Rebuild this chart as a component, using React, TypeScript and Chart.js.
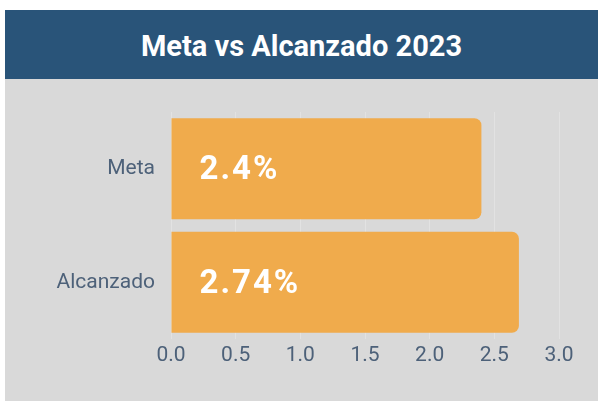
import React, { useEffect, useRef } from "react";
import { Chart, registerables } from "chart.js";

Chart.register(...registerables);

const titleText = "Meta vs Alcanzado 2023";
const categories = ["Meta", "Alcanzado"];
const barValues = [2.4, 2.69];
const valueLabels = ["2.4%", "2.74%"];
const xTicks = [0, 0.5, 1, 1.5, 2, 2.5, 3];

const FONT = "Roboto, 'Noto Sans', sans-serif";

export default function App() {
  const ref = useRef<HTMLCanvasElement | null>(null);

  useEffect(() => {
    if (!ref.current) return;
    const valuePlugin = {
      id: "valueLabels",
      afterDatasetsDraw(chart: any) {
        const ctx = chart.ctx;
        const meta = chart.getDatasetMeta(0);
        ctx.save();
        ctx.fillStyle = "#ffffff";
        ctx.font = `bold 33px ${FONT}`;
        try { (ctx as any).letterSpacing = "2px"; } catch (e) {}
        ctx.textAlign = "left";
        ctx.textBaseline = "middle";
        meta.data.forEach((el: any, i: number) => {
          ctx.fillText(valueLabels[i], el.base + 28, el.y + 2);
        });
        ctx.restore();
      },
    };
    const chart = new Chart(ref.current, {
      type: "bar",
      data: {
        labels: categories,
        datasets: [
          {
            data: barValues,
            backgroundColor: "#f0ab4c",
            borderRadius: 7,
            borderSkipped: "start",
            categoryPercentage: 1,
            barPercentage: 0.89,
          },
        ],
      },
      options: {
        indexAxis: "y",
        animation: false,
        responsive: true,
        maintainAspectRatio: false,
        layout: { padding: { top: 33, right: 39, left: 0, bottom: 0 } },
        plugins: {
          legend: { display: false },
          tooltip: { enabled: false },
          title: { display: false },
        },
        scales: {
          x: {
            min: 0,
            max: 3,
            afterBuildTicks(scale: any) {
              scale.ticks = xTicks.map((v) => ({ value: v }));
            },
            afterFit(scale: any) {
              scale.height = 62;
            },
            grid: { color: "#e2e2e2", lineWidth: 1, drawTicks: false },
            border: { display: false },
            ticks: {
              padding: 4,
              color: "#4d6179",
              font: { family: FONT, size: 21 },
              callback: (v: any) => Number(v).toFixed(1),
            },
          },
          y: {
            afterFit(scale: any) {
              scale.width = 166;
            },
            grid: { display: false, drawTicks: false },
            border: { display: false },
            ticks: {
              padding: 16,
              color: "#4d6179",
              font: { family: FONT, size: 21 },
            },
          },
        },
      },
      plugins: [valuePlugin],
    });
    return () => chart.destroy();
  }, []);

  return (
    <div
      style={{
        position: "absolute",
        left: 5,
        top: 10,
        width: 593,
        height: 391,
        background: "#d9d9d9",
      }}
    >
      <div
        style={{
          height: 69,
          background: "#295479",
          color: "#ffffff",
          fontFamily: FONT,
          fontWeight: 700,
          fontSize: 29,
          lineHeight: "72px",
          textAlign: "center",
        }}
      >
        {titleText}
      </div>
      <div style={{ position: "relative", width: 593, height: 322 }}>
        <canvas ref={ref} />
      </div>
    </div>
  );
}
